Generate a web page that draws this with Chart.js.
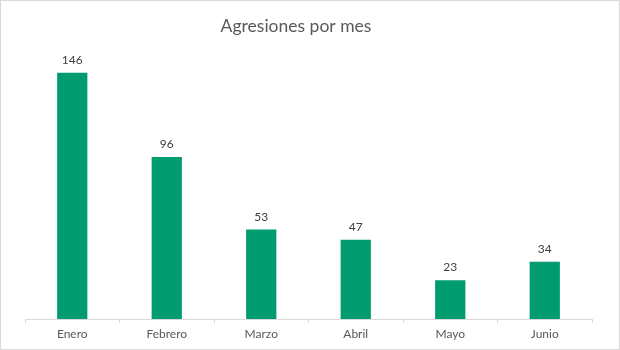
<!DOCTYPE html>
<html>
<head>
<meta charset="utf-8">
<script src="https://cdn.jsdelivr.net/npm/chart.js@4"></script>
<style>
  html, body { margin: 0; padding: 0; background: #fff; }
  #wrap { width: 620px; height: 350px; }
</style>
</head>
<body>
<div id="wrap"><canvas id="c" width="620" height="350"></canvas></div>
<script>
// Monthly counts
const months = ['Enero', 'Febrero', 'Marzo', 'Abril', 'Mayo', 'Junio'];
const agresiones = [146, 96, 53, 47, 23, 34];
const chartTitle = 'Agresiones por mes';

const FONT = 'Lato, "Open Sans", "Liberation Sans", sans-serif';

// Title, value labels above each bar, and a thin frame around the chart
const extras = {
  id: 'extras',
  afterDatasetsDraw(chart) {
    const ctx = chart.ctx;
    const meta = chart.getDatasetMeta(0);
    ctx.save();
    ctx.font = '12px ' + FONT;
    ctx.fillStyle = '#404040';
    ctx.textAlign = 'center';
    ctx.textBaseline = 'alphabetic';
    meta.data.forEach((bar, i) => {
      ctx.fillText(String(chart.data.datasets[0].data[i]), bar.x, bar.y - 9);
    });
    ctx.restore();
  },
  afterDraw(chart) {
    const ctx = chart.ctx;
    ctx.save();
    ctx.font = '17.5px ' + FONT;
    ctx.fillStyle = '#595959';
    ctx.textAlign = 'center';
    ctx.textBaseline = 'alphabetic';
    ctx.fillText(chartTitle, 296, 31.5);
    ctx.strokeStyle = '#d9d9d9';
    ctx.lineWidth = 1;
    ctx.strokeRect(0.5, 0.5, chart.width - 1, chart.height - 1);
    ctx.restore();
  }
};

new Chart(document.getElementById('c'), {
  type: 'bar',
  data: {
    labels: months,
    datasets: [{
      data: agresiones,
      backgroundColor: '#009B6E',
      categoryPercentage: 1,
      barPercentage: 0.32
    }]
  },
  options: {
    responsive: false,
    animation: false,
    layout: { padding: { left: 25, right: 28, top: 49, bottom: 0 } },
    plugins: {
      legend: { display: false },
      tooltip: { enabled: false },
      title: { display: false }
    },
    scales: {
      y: {
        display: false,
        min: 0,
        max: 160
      },
      x: {
        offset: true,
        border: { display: true, color: '#d9d9d9', width: 1 },
        grid: {
          offset: true,
          drawOnChartArea: false,
          drawTicks: true,
          tickLength: 4,
          color: '#d9d9d9'
        },
        ticks: {
          color: '#595959',
          font: { family: FONT, size: 12 },
          padding: 4
        },
        afterFit(scale) { scale.height = 31; }
      }
    }
  },
  plugins: [extras]
});
</script>
</body>
</html>
